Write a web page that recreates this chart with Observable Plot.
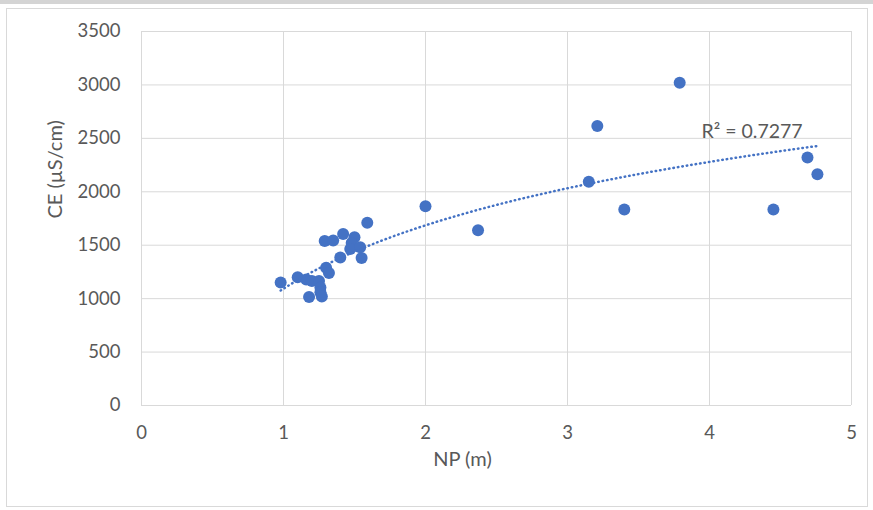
<!DOCTYPE html>
<html>
<head>
<meta charset="utf-8">
<script src="https://cdn.jsdelivr.net/npm/d3@7"></script>
<script src="https://cdn.jsdelivr.net/npm/@observablehq/plot@0.6"></script>
<style>
  html, body { margin: 0; padding: 0; background: #fff; }
  #wrap { position: relative; width: 873px; height: 510px; overflow: hidden; }
  #topbar { position: absolute; left: 0; top: 0; width: 873px; height: 4px; background: #d4d4d4; }
  #frame { position: absolute; left: 6px; top: 8px; width: 862px; height: 499px; border: 1px solid #d9d9d9; box-sizing: border-box; }
  #chart { position: absolute; left: 0; top: 0; }
</style>
</head>
<body>
<div id="wrap">
  <div id="topbar"></div>
  <div id="frame"></div>
  <div id="chart"></div>
</div>
<script>
// Data
const npValues = [0.98, 1.10, 1.16, 1.20, 1.25, 1.26, 1.26, 1.18, 1.27, 1.30, 1.32, 1.29, 1.35, 1.42, 1.50, 1.48, 1.47, 1.54, 1.40, 1.55, 1.59, 2.00, 2.37, 3.15, 3.21, 3.40, 3.79, 4.45, 4.69, 4.76];
const ceValues = [1150, 1200, 1180, 1165, 1165, 1105, 1060, 1015, 1020, 1290, 1240, 1540, 1545, 1605, 1575, 1520, 1465, 1480, 1385, 1380, 1710, 1865, 1640, 2095, 2615, 1835, 3020, 1835, 2320, 2165];
const xTicks = [0, 1, 2, 3, 4, 5];
const yTicks = [0, 500, 1000, 1500, 2000, 2500, 3000, 3500];
const xLabel = "NP (m)";
const yLabel = "CE (µS/cm)";
const r2Label = "R² = 0.7277";

const points = npValues.map((x, i) => ({x, y: ceValues[i]}));

// Logarithmic trendline (least squares of y on ln x), as in the spreadsheet
const lx = points.map(d => Math.log(d.x));
const mx = d3.mean(lx), my = d3.mean(points, d => d.y);
let sxy = 0, sxx = 0;
points.forEach((d, i) => { sxy += (lx[i] - mx) * (d.y - my); sxx += (lx[i] - mx) ** 2; });
const slope = sxy / sxx, intercept = my - slope * mx;
const xmin = d3.min(npValues), xmax = d3.max(npValues);
const trend = d3.range(0, 101).map(i => {
  const x = xmin + (xmax - xmin) * i / 100;
  return {x, y: intercept + slope * Math.log(x)};
});

const font = "Lato, 'Open Sans', sans-serif";
const blue = "#4472c4";
const textCol = "#595959";

const plot = Plot.plot({
  width: 873,
  height: 510,
  marginLeft: 141,
  marginRight: 22,
  marginTop: 31,
  marginBottom: 105,
  style: {fontFamily: font, fontSize: "18px", color: textCol, background: "transparent"},
  x: {domain: [0, 5], label: null},
  y: {domain: [0, 3500], label: null},
  marks: [
    Plot.gridX({ticks: xTicks, stroke: "#d9d9d9", strokeOpacity: 1, strokeWidth: 1}),
    Plot.gridY({ticks: yTicks, stroke: "#d9d9d9", strokeOpacity: 1, strokeWidth: 1}),
    Plot.axisX({ticks: xTicks, tickFormat: "d", tickSize: 0, tickPadding: 20, fill: textCol, fontSize: 18.5, label: null}),
    Plot.axisY({ticks: yTicks, tickFormat: "d", tickSize: 0, tickPadding: 21, fill: textCol, fontSize: 18.5, label: null}),
    Plot.dot(points, {x: "x", y: "y", r: 6, fill: blue, stroke: "none"}),
    Plot.line(trend, {x: "x", y: "y", stroke: blue, strokeWidth: 2.5, strokeDasharray: "0.5,4", strokeLinecap: "round"}),
    Plot.text([r2Label], {x: () => 4.3, y: () => 2565, fill: textCol, fontSize: 19.5}),
    Plot.text([xLabel], {frameAnchor: "bottom", dx: -34, dy: 60, fill: textCol, fontSize: 20}),
    Plot.text([yLabel], {frameAnchor: "left", dx: -86, rotate: -90, fill: textCol, fontSize: 20})
  ]
});
document.getElementById("chart").appendChild(plot);
</script>
</body>
</html>
